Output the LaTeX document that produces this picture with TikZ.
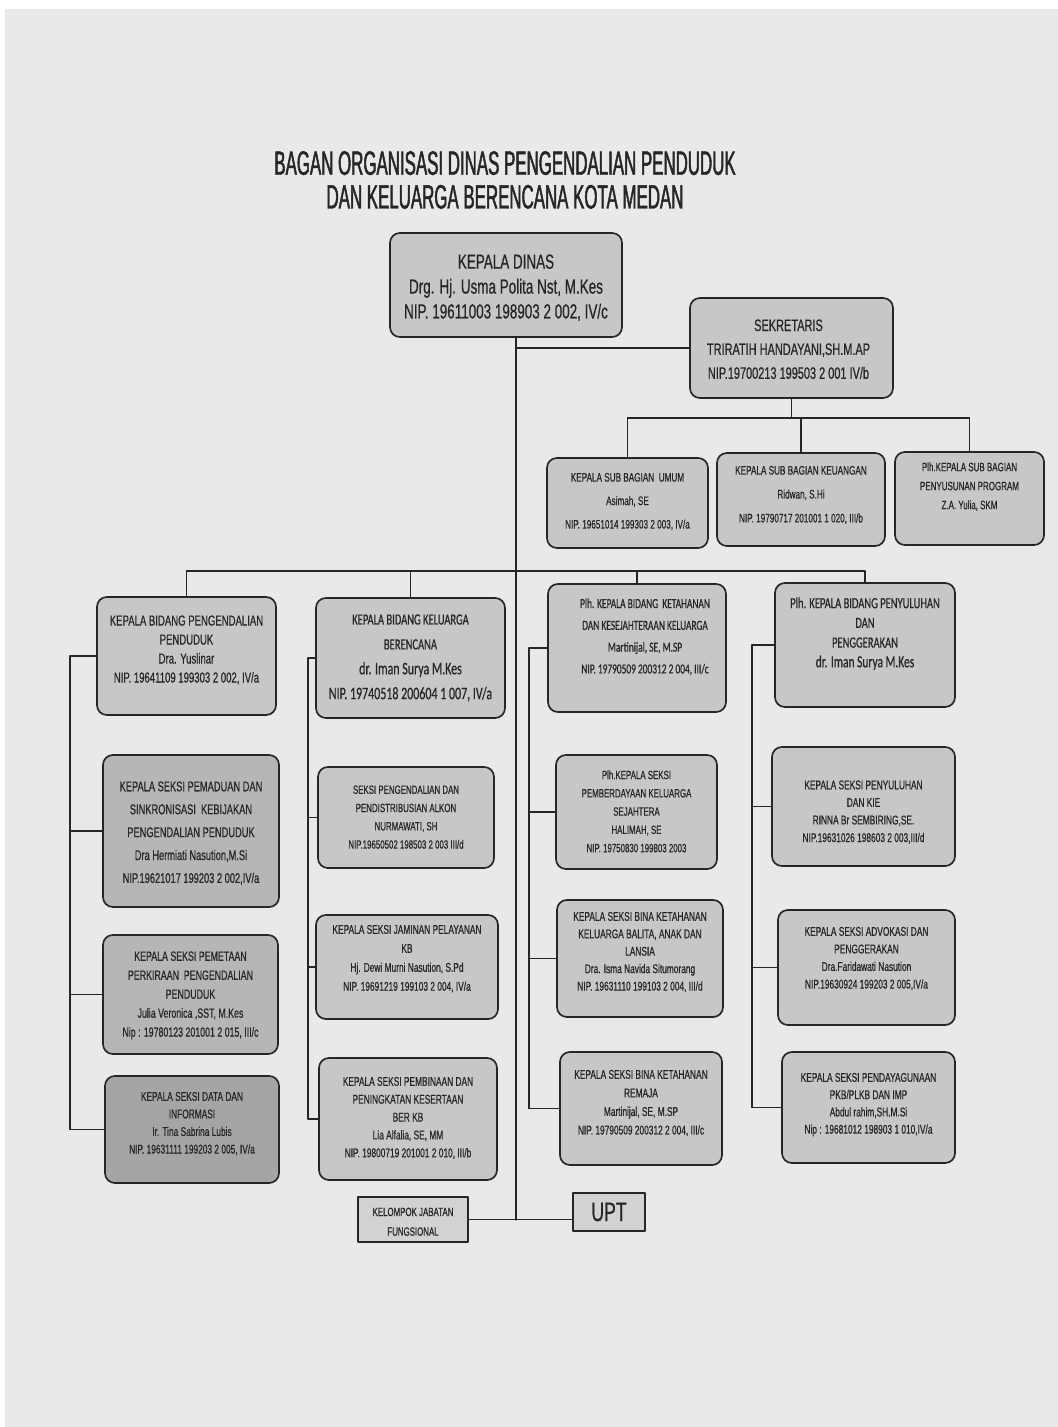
\documentclass[tikz,border=0pt]{standalone}
\usepackage{fontspec}
\setmainfont{Liberation Sans}[FakeStretch=0.66, FakeBold=0.6]
\newfontfamily\titlefont{Liberation Sans}[FakeStretch=0.5, FakeBold=1.4]
\newfontfamily\calfont{Carlito}[FakeStretch=0.68, FakeBold=0.6]
\usetikzlibrary{fit,calc}
\definecolor{paper}{RGB}{233,233,231}
\definecolor{boxgrey}{RGB}{199,199,199}
\definecolor{boxdark}{RGB}{182,182,182}
\definecolor{boxdarker}{RGB}{165,165,165}
\definecolor{ink}{RGB}{38,38,38}
\tikzset{
 unit/.style={draw=ink, line width=1.2pt, fill=boxgrey, rounded corners=7pt, inner sep=0pt},
 flat/.style={unit, rounded corners=0pt, line width=0.9pt},
 txt/.style={anchor=north, inner sep=0pt, align=center, text=ink},
 link/.style={draw=ink, line width=0.8pt},
 fs/.style 2 args={font=\fontsize{#1}{#2}\selectfont},
 cfs/.style 2 args={font=\calfont\fontsize{#1}{#2}\selectfont},
}
\begin{document}
\begin{tikzpicture}[x=0.025cm, y=-0.025cm, line join=round, line cap=round]
 \useasboundingbox (0,0) rectangle (1058,1427);
 \fill[white] (0,0) rectangle (1058,1427);
 \fill[paper] (5,9) rectangle (1058,1427);
 \node (title) at (505,180) [font={\titlefont\fontsize{24}{24}\selectfont}, align=center, text=ink] {BAGAN ORGANISASI DINAS PENGENDALIAN PENDUDUK\\DAN KELUARGA BERENCANA KOTA MEDAN};
 \node (kadis) [unit, fit={(390,233) (622,337)}] {};
 \node (kadisT) at ($(kadis.north)+(0,22)$) [txt, fs={14.5}{17.7}] {KEPALA DINAS\\Drg. Hj. Usma Polita Nst, M.Kes\\NIP. 19611003 198903 2 002, IV/c};
 \node (sek) [unit, fit={(690,298) (893,398)}] {};
 \node (sekT) at ($(sek.north)+(-3,22)$) [txt, fs={11.8}{17}] {SEKRETARIS\\TRIRATIH HANDAYANI,SH.M.AP\\NIP.19700213 199503 2 001 IV/b};
 \node (umum) [unit, fit={(547,458) (708,548)}] {};
 \node (umumT) at ($(umum.north)+(0,15.5)$) [txt, fs={8.8}{16.7}] {KEPALA SUB BAGIAN \ UMUM\\Asimah, SE\\NIP. 19651014 199303 2 003, IV/a};
 \node (keu) [unit, fit={(717,453) (885,546)}] {};
 \node (keuT) at ($(keu.north)+(0,13.5)$) [txt, fs={8.8}{17}] {KEPALA SUB BAGIAN KEUANGAN\\Ridwan, S.Hi\\NIP. 19790717 201001 1 020, III/b};
 \node (prog) [unit, fit={(895,452) (1044,545)}] {};
 \node (progT) at ($(prog.north)+(0,11)$) [txt, fs={8.6}{13.5}] {Plh.KEPALA SUB BAGIAN\\PENYUSUNAN PROGRAM\\Z.A. Yulia, SKM};
 \node (bpp) [unit, fit={(97,597) (276,715)}] {};
 \node (bppT) at ($(bpp.north)+(0,19)$) [txt, fs={10.3}{13.5}] {KEPALA BIDANG PENGENDALIAN\\PENDUDUK\\Dra. Yuslinar\\NIP. 19641109 199303 2 002, IV/a};
 \node (bkb) [unit, fit={(316,598) (505,718)}] {};
 \node (bkbT) at ($(bkb.north)+(0,17)$) [txt, cfs={11}{17.7}] {KEPALA BIDANG KELUARGA\\BERENCANA\\{\fontsize{12.5}{17.7}\selectfont dr. Iman Surya M.Kes}\\{\fontsize{12.5}{17.7}\selectfont NIP. 19740518 200604 1 007, IV/a}};
 \node (bks) [unit, fit={(548,584) (726,712)}] {};
 \node (bksT) at ($(bks.north)+(8,15)$) [txt, cfs={9.8}{15.5}] {Plh. KEPALA BIDANG \ KETAHANAN\\DAN KESEJAHTERAAN KELUARGA\\Martinijal, SE, M.SP\\NIP. 19790509 200312 2 004, III/c};
 \node (bpg) [unit, fit={(775,583) (955,707)}] {};
 \node (bpgT) at ($(bpg.north)+(0,15)$) [txt, cfs={11}{14}] {Plh. KEPALA BIDANG PENYULUHAN\\DAN\\PENGGERAKAN\\{\fontsize{12}{14}\selectfont dr. Iman Surya M.Kes}};
 \node (s11) [unit, fill=boxdark, fit={(103,755) (279,907)}] {};
 \node (s11T) at ($(s11.north)+(0,27)$) [txt, fs={10}{16.3}] {KEPALA SEKSI PEMADUAN DAN\\SINKRONISASI \ KEBIJAKAN\\PENGENDALIAN PENDUDUK\\Dra Hermiati Nasution,M.Si\\NIP.19621017 199203 2 002,IV/a};
 \node (s12) [unit, fill=boxdark, fit={(103,935) (278,1054)}] {};
 \node (s12T) at ($(s12.north)+(0,17)$) [txt, fs={9.5}{13.5}] {KEPALA SEKSI PEMETAAN\\PERKIRAAN \ PENGENDALIAN\\PENDUDUK\\Julia Veronica ,SST, M.Kes\\Nip : 19780123 201001 2 015, III/c};
 \node (s13) [unit, fill=boxdarker, fit={(105,1076) (279,1183)}] {};
 \node (s13T) at ($(s13.north)+(0,16.5)$) [txt, fs={9}{12.5}] {KEPALA SEKSI DATA DAN\\INFORMASI\\Ir. Tina Sabrina Lubis\\NIP. 19631111 199203 2 005, IV/a};
 \node (s21) [unit, fit={(318,767) (494,868)}] {};
 \node (s21T) at ($(s21.north)+(0,19)$) [txt, fs={8.5}{13}] {SEKSI PENGENDALIAN DAN\\PENDISTRIBUSIAN ALKON\\NURMAWATI, SH\\NIP.19650502 198503 2 003 III/d};
 \node (s22) [unit, fit={(316,915) (498,1019)}] {};
 \node (s22T) at ($(s22.north)+(0,10.5)$) [txt, fs={9}{13.5}] {KEPALA SEKSI JAMINAN PELAYANAN\\KB\\Hj. Dewi Murni Nasution, S.Pd\\NIP. 19691219 199103 2 004, IV/a};
 \node (s23) [unit, fit={(319,1058) (497,1180)}] {};
 \node (s23T) at ($(s23.north)+(0,19.5)$) [txt, fs={9}{12.7}] {KEPALA SEKSI PEMBINAAN DAN\\PENINGKATAN KESERTAAN\\BER KB\\Lia Alfalia, SE, MM\\NIP. 19800719 201001 2 010, III/b};
 \node (s31) [unit, fit={(556,755) (717,869)}] {};
 \node (s31T) at ($(s31.north)+(0,16)$) [txt, fs={8.5}{13}] {Plh.KEPALA SEKSI\\PEMBERDAYAAN KELUARGA\\SEJAHTERA\\HALIMAH, SE\\NIP. 19750830 199803 2003};
 \node (s32) [unit, fit={(557,900) (723,1017)}] {};
 \node (s32T) at ($(s32.north)+(0,12.5)$) [txt, fs={9}{12.4}] {KEPALA SEKSI BINA KETAHANAN\\KELUARGA BALITA, ANAK DAN\\LANSIA\\Dra. Isma Navida Situmorang\\NIP. 19631110 199103 2 004, III/d};
 \node (s33) [unit, fit={(560,1052) (722,1165)}] {};
 \node (s33T) at ($(s33.north)+(0,18.5)$) [txt, fs={9}{13.2}] {KEPALA SEKSI BINA KETAHANAN\\REMAJA\\Martinijal, SE, M.SP\\NIP. 19790509 200312 2 004, III/c};
 \node (s41) [unit, fit={(772,747) (955,866)}] {};
 \node (s41T) at ($(s41.north)+(0,34)$) [txt, fs={9}{12.5}] {KEPALA SEKSI PENYULUHAN\\DAN KIE\\RINNA Br SEMBIRING,SE.\\NIP.19631026 198603 2 003,III/d};
 \node (s42) [unit, fit={(778,910) (955,1025)}] {};
 \node (s42T) at ($(s42.north)+(0,17.5)$) [txt, fs={9}{12.5}] {KEPALA SEKSI ADVOKASI DAN\\PENGGERAKAN\\Dra.Faridawati Nasution\\NIP.19630924 199203 2 005,IV/a};
 \node (s43) [unit, fit={(782,1052) (955,1163)}] {};
 \node (s43T) at ($(s43.north)+(0,21.5)$) [txt, fs={9}{12.3}] {KEPALA SEKSI PENDAYAGUNAAN\\PKB/PLKB DAN IMP\\Abdul rahim,SH.M.Si\\Nip : 19681012 198903 1 010,IV/a};
 \node (kjf) [flat, fill=boxgrey!80!white, fit={(358,1197) (468,1242)}] {};
 \node (kjfT) at ($(kjf.north)+(0,11)$) [txt, fs={8.5}{14}] {KELOMPOK JABATAN\\FUNGSIONAL};
 \node (upt) [flat, fill=boxgrey!80!white, fit={(573,1193) (645,1231)}] {};
 \node (uptT) at ($(upt.north)+(0,10)$) [txt, fs={19}{19}] {UPT};
 \coordinate (tail) at (516,1220);
 \coordinate (sekbus) at (0,418);
 \coordinate (bidbus) at (0,571);
 \coordinate (c1) at (70,0);
 \coordinate (c2) at (308,0);
 \coordinate (c3) at (529,0);
 \coordinate (c4) at (752,0);
 \draw[link] (tail |- kadis.south) -- (tail);
 \draw[link] (tail |- sek.west) -- (sek.west);
 \draw[link] (sek.south) -- (sek.south |- sekbus);
 \draw[link] (umum.north |- sekbus) -- (prog.north |- sekbus);
 \foreach \n in {umum,keu,prog} \draw[link] (\n.north |- sekbus) -- (\n.north);
 \draw[link] (bpp.north |- bidbus) -- (bpg.north |- bidbus);
 \foreach \n in {bpp,bkb,bks,bpg} \draw[link] (\n.north |- bidbus) -- (\n.north);
 \draw[link] (bpp.west) -- (bpp.west -| c1) -- (c1 |- s13.west);
 \draw[link] (bkb.west) -- (bkb.west -| c2) -- (c2 |- s23.west);
 \draw[link] (bks.west) -- (bks.west -| c3) -- (c3 |- s33.west);
 \draw[link] (bpg.west) -- (bpg.west -| c4) -- (c4 |- s43.west);
 \foreach \n in {s11,s12,s13} \draw[link] (c1 |- \n.west) -- (\n.west);
 \foreach \n in {s21,s22,s23} \draw[link] (c2 |- \n.west) -- (\n.west);
 \foreach \n in {s31,s32,s33} \draw[link] (c3 |- \n.west) -- (\n.west);
 \foreach \n in {s41,s42,s43} \draw[link] (c4 |- \n.west) -- (\n.west);
 \draw[link] (kjf.east) -- (kjf.east -| upt.west);
\end{tikzpicture}
\end{document}
